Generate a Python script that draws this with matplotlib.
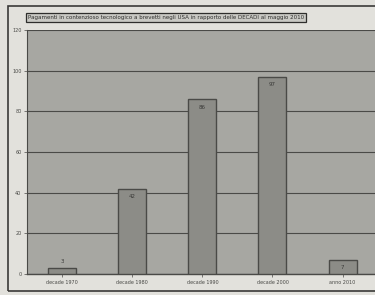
import matplotlib.pyplot as plt
from matplotlib.patches import Rectangle

categorie = ["decade 1970", "decade 1980", "decade 1990", "decade 2000", "anno 2010"]
valori = [3, 42, 86, 97, 7]
tick_y = [0, 20, 40, 60, 80, 100, 120]
titolo = "Pagamenti in contenzioso tecnologico a brevetti negli USA in rapporto delle DECADI al maggio 2010"

fig = plt.figure(figsize=(3.75, 2.95), dpi=100)
fig.patch.set_facecolor("#e2e1dc")

# cornice esterna
fig.patches.append(Rectangle((0.022, 0.015), 0.985, 0.965, transform=fig.transFigure,
                             fill=False, edgecolor="#3a3a38", linewidth=1.2))

ax = fig.add_axes([0.072, 0.071, 0.935, 0.827])
ax.set_facecolor("#a7a7a2")

x = range(len(categorie))
bars = ax.bar(x, valori, width=0.4, color="#8c8c87", edgecolor="#4a4a47", linewidth=1.0, zorder=3)

for i, v in enumerate(valori):
    if v < 5:
        ax.text(i, v + 3, str(v), ha="center", va="center", fontsize=4, color="#3a3a38", zorder=4)
    else:
        ax.text(i, v - 4, str(v), ha="center", va="center", fontsize=4, color="#3a3a38", zorder=4)

ax.set_xlim(-0.5, len(categorie) - 0.5)
ax.set_ylim(0, 120)
ax.set_yticks(tick_y)
ax.set_yticklabels([str(t) for t in tick_y], fontsize=3.5, color="#4a4a47")
ax.set_xticks(list(x))
ax.set_xticklabels(categorie, fontsize=3.5, color="#4a4a47")
ax.tick_params(axis="both", length=2, width=0.5, color="#4a4a47", pad=2)
ax.grid(axis="y", color="#4a4a47", linewidth=0.8, zorder=1)
for s in ["top", "right"]:
    ax.spines[s].set_visible(False)
ax.spines["left"].set_color("#4a4a47")
ax.spines["bottom"].set_color("#4a4a47")
ax.spines["bottom"].set_linewidth(1.0)

fig.text(0.075, 0.94, titolo, fontsize=3.95, color="#2e2e2c", ha="left", va="center",
         bbox=dict(boxstyle="square,pad=0.4", facecolor="#c9c9c4", edgecolor="#2e2e2c", linewidth=0.9))

plt.savefig("out.png", dpi=100)
